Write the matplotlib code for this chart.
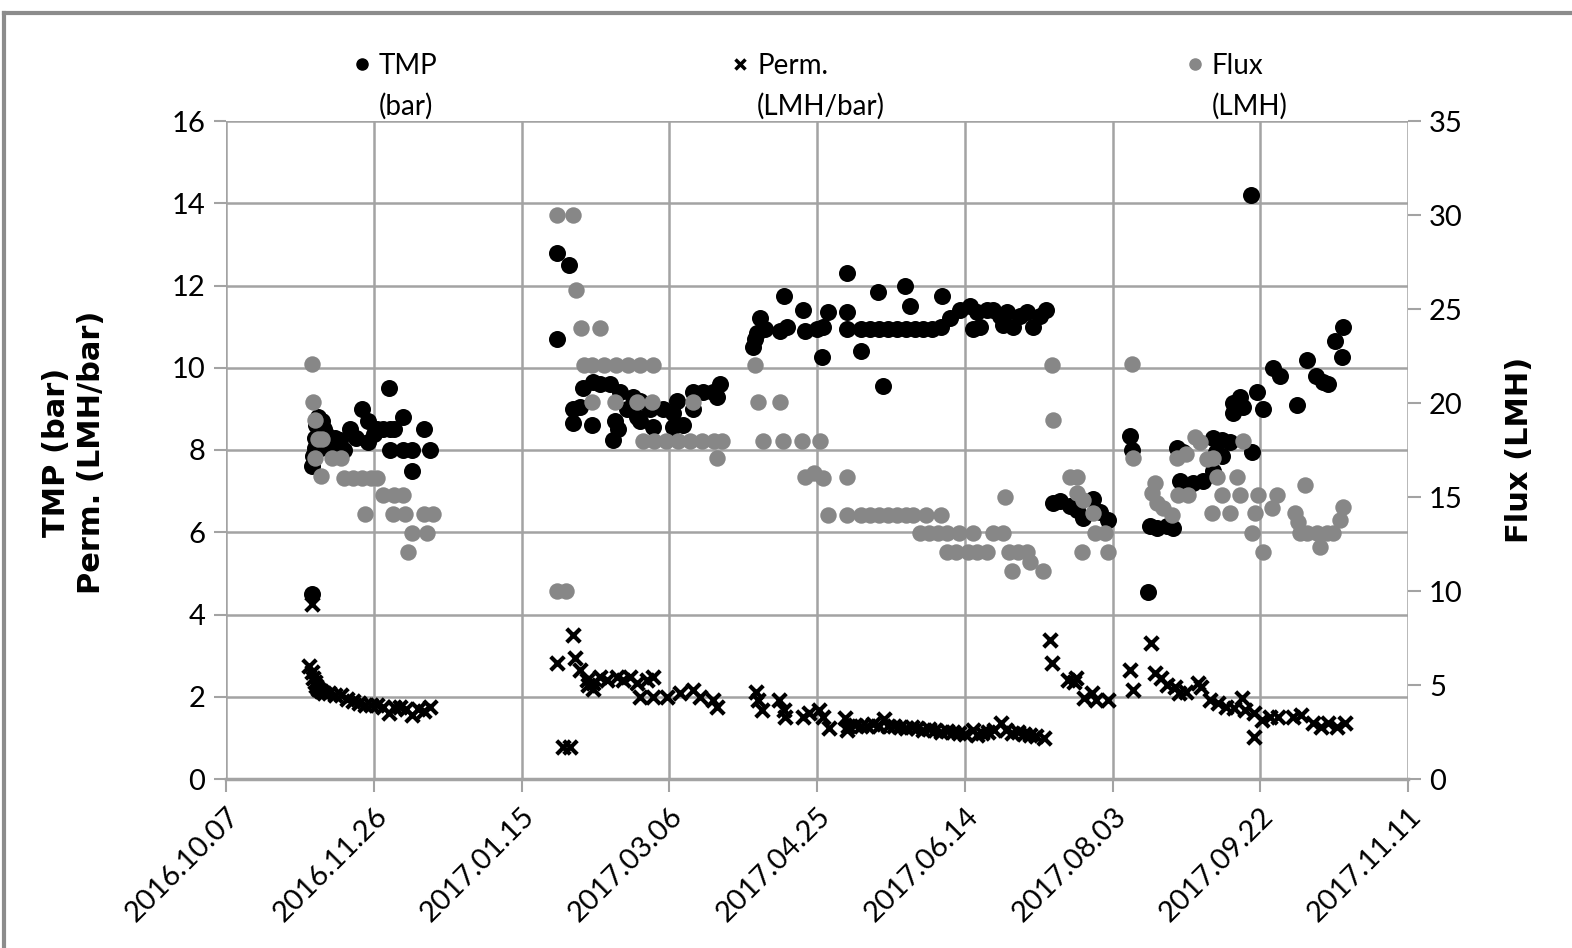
import matplotlib
matplotlib.use("Agg")
import matplotlib.pyplot as plt
import numpy as np
import pandas as pd
from matplotlib.lines import Line2D

plt.rcParams['font.family'] = ['Lato', 'DejaVu Sans']

# ---------------- data ----------------
START = "2016-10-07"
x_tick_labels = ["2016.10.07", "2016.11.26", "2017.01.15", "2017.03.06", "2017.04.25",
                 "2017.06.14", "2017.08.03", "2017.09.22", "2017.11.11"]
left_ticks = [0, 2, 4, 6, 8, 10, 12, 14, 16]
right_ticks = [0, 5, 10, 15, 20, 25, 30, 35]

# TMP (bar): days since START, value
tmp_day = [29, 29, 29.5, 30, 30, 30.5, 31, 31.5, 32, 32.5, 33, 34, 35, 36, 37, 38.5, 40, 42, 44, 46,
           48, 48, 50, 51, 53, 55, 55.5, 55.5, 57, 60, 60, 63, 63, 67, 69,
           112, 112, 116, 117.4, 117.4, 119.8, 120.8, 123.9, 124.2, 126.6, 130, 131, 131.6, 132.7, 133.3,
           135.7, 137.7, 139, 140, 140, 143.5, 144.5, 147.9, 151.3, 151.3, 152.6, 154.7, 158, 158,
           161.4, 164.8, 166.2, 167.2,
           178.4, 179, 179.6, 180.7, 182.4, 187.5, 189, 190, 195.3, 196, 200, 202, 201.7, 203.7, 210,
           210, 210, 215, 215, 218, 221, 220.6, 222.3, 224, 227, 229.8, 230, 231.5, 233, 236, 239,
           242.3, 242, 245, 248.4, 251.8, 252.8, 254.2, 255.2, 257.5, 259.6, 262, 263, 264.3, 266.3,
           268.7, 271, 273, 275.5, 277.5,
           280, 282.2, 285.6, 288, 290, 293.4, 295.8, 298.5, 306, 306.6, 312, 312.7, 315, 318.4, 320.5,
           321.8, 324, 322.8, 327.2, 330.6, 334, 337, 339.8, 335, 337, 334, 340.8, 343.2, 349, 340.8,
           344, 347.2, 347, 351, 354.3, 356.7, 362.4, 365.8, 369, 371.2, 373, 375.3, 377.7, 378]
tmp_val = [4.5, 7.6, 7.85, 8.05, 8.3, 8.6, 8.8, 8.35, 8.05, 8.7, 8.5, 8.4, 8.2, 8.0, 8.3, 8.25, 8.0, 8.5, 8.3, 9.0,
           8.7, 8.2, 8.4, 8.5, 8.5, 9.5, 8.5, 8.0, 8.5, 8.8, 8.0, 8.0, 7.5, 8.5, 8.0,
           10.7, 12.8, 12.5, 9.0, 8.65, 9.05, 9.5, 8.6, 9.65, 9.6, 9.6, 8.25, 8.7, 8.5, 9.4,
           9.0, 9.3, 8.8, 9.2, 8.7, 9.0, 8.55, 9.0, 8.9, 8.55, 9.2, 8.6, 9.4, 9.0,
           9.4, 9.4, 9.3, 9.6,
           10.5, 10.7, 10.85, 11.2, 10.95, 10.9, 11.75, 11.0, 11.4, 10.9, 10.95, 11.0, 10.25, 11.35, 12.3,
           11.35, 10.95, 10.4, 10.95, 10.95, 10.95, 11.85, 9.55, 10.95, 10.95, 12.0, 10.95, 11.5, 10.95, 10.95, 10.95,
           11.75, 11.0, 11.2, 11.4, 11.5, 10.95, 11.35, 11.0, 11.4, 11.4, 11.25, 11.05, 11.35, 11.0,
           11.25, 11.35, 11.0, 11.25, 11.4,
           6.7, 6.75, 6.65, 6.55, 6.35, 6.8, 6.5, 6.3, 8.35, 8.0, 4.55, 6.15, 6.1, 6.15, 6.1,
           8.05, 7.95, 7.25, 7.2, 7.25, 8.3, 8.25, 8.2, 7.95, 7.85, 7.5, 9.15, 9.3, 9.4, 8.9,
           9.05, 7.95, 14.2, 9.0, 10.0, 9.8, 9.1, 10.2, 9.8, 9.65, 9.6, 10.65, 10.25, 11.0]

# Permeability (LMH/bar)
perm_day = [29, 28, 29, 29.5, 30, 30.5, 31, 32, 33, 35, 37, 39, 41, 43, 45, 47, 49, 51, 53, 55, 57, 59, 61,
            63, 65, 67, 69,
            112, 117.4, 118, 114, 116.5, 119.8, 122, 124.2, 126.6, 128.9, 132.3, 134.4, 136.8, 139, 142.5,
            144.5, 124.2, 122.5, 140, 144.5, 149.2, 153.6, 158, 160.4, 164.8, 166.2,
            179.4, 180, 181.4, 187.3, 188.7, 189.3, 195.3, 197.3, 200.7, 202, 204, 209.5, 210, 210.5, 213,
            215, 217, 219, 221, 222.7, 224, 226, 228, 230, 232, 234, 236, 238, 240, 242, 244, 246, 248,
            250, 252.8, 254, 256, 258, 260, 262.3, 264, 266, 268, 270, 272, 274, 276.8,
            278.8, 279.5, 285, 287.6, 287, 290.4, 293, 294.4, 298.5, 306, 307, 313, 314.4, 316.4, 318.4,
            321, 322.5, 325, 329, 330, 333, 335.7, 338.4, 341, 343.8, 345, 347.9, 347.9, 350.6, 353.3,
            356, 361, 363.8, 367.8, 370.5, 373, 376, 378.7]
perm_val = [4.25, 2.75, 2.6, 2.45, 2.35, 2.25, 2.2, 2.15, 2.1, 2.1, 2.05, 2.05, 1.95, 1.9, 1.85, 1.8, 1.8, 1.8,
            1.75, 1.6, 1.75, 1.75, 1.7, 1.55, 1.7, 1.65, 1.75,
            2.82, 3.5, 2.94, 0.78, 0.78, 2.65, 2.4, 2.33, 2.48, 2.4, 2.48, 2.4, 2.48, 2.33, 2.4,
            2.48, 2.2, 2.28, 2.0, 2.0, 2.0, 2.1, 2.17, 2.0, 1.92, 1.75,
            2.12, 1.92, 1.68, 1.92, 1.68, 1.51, 1.51, 1.6, 1.68, 1.51, 1.24, 1.48, 1.19, 1.3, 1.32,
            1.3, 1.28, 1.33, 1.3, 1.45, 1.3, 1.28, 1.27, 1.25, 1.27, 1.25, 1.2, 1.22, 1.2, 1.15, 1.17, 1.14, 1.12,
            1.1, 1.19, 1.07, 1.12, 1.15, 1.2, 1.36, 1.2, 1.12, 1.15, 1.1, 1.08, 1.05, 1.0,
            3.38, 2.82, 2.4, 2.45, 2.36, 1.97, 2.1, 1.92, 1.92, 2.65, 2.17, 3.3, 2.58, 2.45, 2.28,
            2.24, 2.1, 2.12, 2.33, 2.24, 1.92, 1.85, 1.75, 1.73, 1.97, 1.68, 1.6, 1.02, 1.43, 1.51,
            1.51, 1.51, 1.56, 1.36, 1.26, 1.36, 1.26, 1.36]

# Flux (LMH)
flux_day = [29, 29.5, 30, 31, 32.5, 30, 36, 39, 32, 40, 43, 46, 49, 51, 53, 57, 60, 47, 56.5, 60.5, 67, 70,
            63, 68, 61.5,
            112, 117.5, 112, 115, 118.5, 120, 126.6, 121, 124, 128, 132, 136, 140, 144.5, 124, 131.5, 139,
            144, 158, 141, 145, 149, 153, 157, 161, 165, 168, 166,
            179, 180, 187.5, 181.7, 188.5, 195, 201, 196, 199, 202, 210, 203.7, 210, 215, 218, 221, 224,
            227, 230, 232.5, 237, 242, 235, 238, 241, 244, 248, 252.8, 259.6, 263, 244, 247, 251, 254,
            257.5, 265, 268, 271, 266, 272, 276.5, 263.6,
            279.5, 280, 285.6, 288, 288, 290, 293.4, 294, 297.5, 289.7, 298.5, 306.6, 307, 314.4, 313.4,
            315, 317, 320, 321.8, 325, 328, 329.6, 332, 334, 322, 325.6, 335.4, 342, 337, 343.2, 349.2,
            333.7, 339.8, 348.2, 344.2, 347.2, 351, 355.7, 354, 365, 361.8, 362.8, 363.5, 365.8, 369.2,
            370.2, 372.6, 374.6, 377, 378]
flux_val = [22.05, 20.05, 19.1, 18.1, 18.1, 17.1, 17.1, 17.1, 16.1, 16.0, 16.0, 16.0, 16.0, 16.0, 15.1, 15.1,
            15.1, 14.1, 14.1, 14.1, 14.1, 14.1, 13.1, 13.1, 12.1,
            30.0, 30.0, 10.0, 10.0, 26.0, 24.0, 24.0, 22.0, 22.0, 22.0, 22.0, 22.0, 22.0, 22.0, 20.05, 20.05, 20.05,
            20.05, 20.05, 18.0, 18.0, 18.0, 18.0, 18.0, 18.0, 18.0, 18.0, 17.1,
            22.0, 20.05, 20.05, 18.0, 18.0, 18.0, 18.0, 16.05, 16.3, 16.0, 16.05, 14.05, 14.05, 14.05, 14.05, 14.05, 14.05,
            14.05, 14.05, 14.05, 14.05, 14.05, 13.1, 13.1, 13.1, 13.1, 13.1, 13.1, 13.1, 13.1, 12.05, 12.05, 12.05, 12.05,
            12.05, 12.05, 12.05, 12.05, 11.05, 11.55, 11.05, 15.0,
            22.0, 19.1, 16.05, 16.05, 15.2, 14.85, 14.15, 13.1, 13.1, 12.05, 12.05, 22.1, 17.05, 15.75, 15.2,
            14.7, 14.4, 14.05, 17.1, 17.3, 18.2, 17.9, 17.0, 17.1, 15.1, 15.1, 16.05, 16.05, 15.1, 15.1, 15.1,
            14.15, 14.15, 14.15, 18.0, 13.1, 12.05, 15.1, 14.4, 15.65, 14.15, 13.65, 13.1, 13.1, 13.1,
            12.35, 13.1, 13.1, 13.8, 14.45]

# ---------------- helpers ----------------
start = pd.Timestamp(START)
def to_dates(days):
    return start + pd.to_timedelta(np.asarray(days, dtype=float), unit="D")

tick_dates = pd.to_datetime(x_tick_labels, format="%Y.%m.%d")

W, H = 1572, 948
fig = plt.figure(figsize=(W / 100, H / 100), dpi=100)
fig.patch.set_facecolor("white")
ax = fig.add_axes([226 / W, 1 - 779 / H, (1408 - 226) / W, (779 - 121) / H])
ax2 = ax.twinx()

GRID = "#a3a3a3"
GRAY = "#878787"

ax.scatter(to_dates(tmp_day), tmp_val, s=150, color="black", marker="o", linewidths=0, zorder=3)
ax.scatter(to_dates(perm_day), perm_val, s=95, color="black", marker="x", linewidths=3.0, zorder=4)
ax2.scatter(to_dates(flux_day), flux_val, s=140, color=GRAY, marker="o", linewidths=0, zorder=3)

ax.set_xlim(tick_dates[0], tick_dates[-1])
ax.set_ylim(left_ticks[0], left_ticks[-1])
ax2.set_ylim(right_ticks[0], right_ticks[-1])
ax.set_xticks(tick_dates)
ax.set_xticklabels(x_tick_labels, rotation=45, ha="right", rotation_mode="anchor")
ax.set_yticks(left_ticks)
ax2.set_yticks(right_ticks)

ax.grid(True, color=GRID, linewidth=1.8)
ax.set_axisbelow(True)
for a in (ax, ax2):
    for s in a.spines.values():
        s.set_visible(False)
ax.spines["bottom"].set_visible(True)
ax.spines["bottom"].set_color(GRID)
ax.spines["bottom"].set_linewidth(2.5)

ax.tick_params(axis="both", length=9, width=1.5, color=GRID, labelsize=21, pad=6)
ax.tick_params(axis="x", pad=8)
ax2.tick_params(axis="y", length=9, width=1.5, color=GRID, labelsize=21, pad=6)

# axis titles
fig.text(74 / W, 1 - 452 / H, "TMP (bar)\nPerm. (LMH/bar)", rotation=90, ha="center", va="center",
         fontsize=22, fontweight="bold", family=["DejaVu Sans"], linespacing=1.25,
         multialignment="center")
fig.text(1520 / W, 1 - 450 / H, "Flux (LMH)", rotation=90, ha="center", va="center",
         fontsize=22, fontweight="bold", family=["DejaVu Sans"])

# legend entries
entries = [
    (Line2D([], [], marker="o", color="black", linestyle="none", markersize=8), "TMP", "(bar)", 354),
    (Line2D([], [], marker="x", color="black", linestyle="none", markersize=7, markeredgewidth=2.5),
     "Perm.", "(LMH/bar)", 732),
    (Line2D([], [], marker="o", color=GRAY, linestyle="none", markersize=8), "Flux", "(LMH)", 1187),
]
legs = []
for h, l1, l2, xpx in entries:
    lg = fig.legend(handles=[h], labels=[l1], loc="center left", bbox_to_anchor=(xpx / W, 1 - 66 / H),
                    frameon=False, fontsize=20, handlelength=0.6, handletextpad=0.3,
                    borderpad=0, borderaxespad=0)
    legs.append((lg, l2))
fig.canvas.draw()
for lg, l2 in legs:
    bb = lg.get_texts()[0].get_window_extent()
    fig.text(bb.x0 / W, 1 - 106 / H, l2, ha="left", va="center", fontsize=20)

# outer frame (top & left edges visible in the reference)
fig.add_artist(Line2D([4 / W, 4 / W], [0, 1 - 13 / H], transform=fig.transFigure, color="#8c8c8c", lw=3))
fig.add_artist(Line2D([4 / W, 1], [1 - 13 / H, 1 - 13 / H], transform=fig.transFigure, color="#8c8c8c", lw=3))

fig.savefig("out.png", dpi=100, facecolor="white")
